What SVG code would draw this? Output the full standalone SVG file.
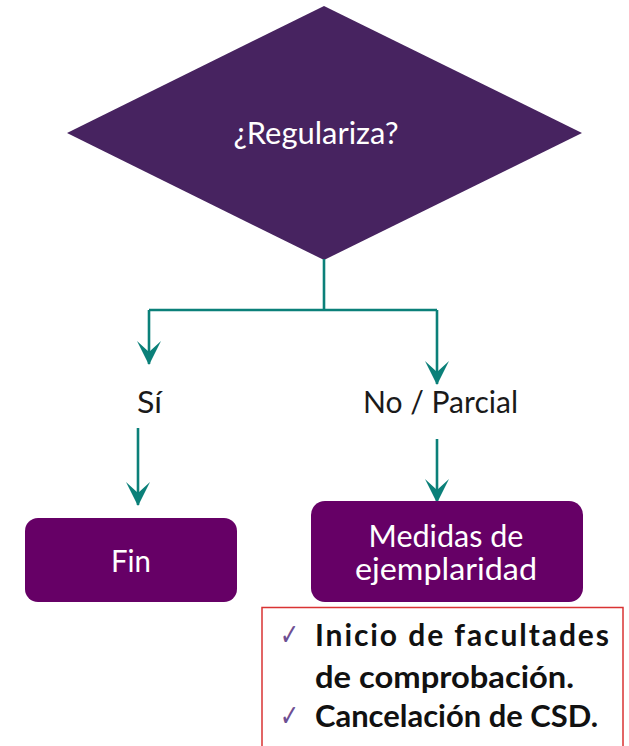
<svg xmlns="http://www.w3.org/2000/svg" width="629" height="746" viewBox="0 0 629 746">
<style>
.conn{stroke:#0b8079;stroke-width:2.6;fill:none}
.wt{fill:#ffffff;font-family:Lato,"Open Sans",sans-serif;font-size:30px;text-anchor:middle}
.lbl{fill:#1a1a1a;font-family:Lato,"Open Sans",sans-serif;font-size:30px}
.li{fill:#111111;font-family:Lato,"Open Sans",sans-serif;font-size:30px;font-weight:bold}
.ck{fill:#6e4f93;font-family:"DejaVu Sans",sans-serif;font-size:30px}
.box{fill:#660066}
</style>
<defs>
<marker id="ah" markerUnits="userSpaceOnUse" markerWidth="24" markerHeight="24" refX="23" refY="12" orient="auto" viewBox="0 0 24 24">
<path d="M0,0 L24,12 L0,24 L11,12 Z" fill="#0b8079"/>
</marker>
</defs>
<g id="decision">
<polygon points="324,6 582,133 324,260 67,133" fill="#472360"/>
<text class="wt" x="316" y="144" font-size="27" textLength="165" lengthAdjust="spacingAndGlyphs">¿Regulariza?</text>
</g>
<g id="connectors">
<path class="conn" d="M324,259 V310"/>
<path class="conn" d="M149,310 H437"/>
<path class="conn" d="M149,310 V364" marker-end="url(#ah)"/>
<path class="conn" d="M437,310 V384" marker-end="url(#ah)"/>
<path class="conn" d="M138,428 V505" marker-end="url(#ah)"/>
<path class="conn" d="M437,439 V502" marker-end="url(#ah)"/>
</g>
<g id="label-si">
<text class="lbl" x="137" y="413" textLength="25" lengthAdjust="spacingAndGlyphs">Sí</text>
</g>
<g id="label-no">
<text class="lbl" x="363" y="413" textLength="155" lengthAdjust="spacingAndGlyphs">No / Parcial</text>
</g>
<g id="fin">
<rect class="box" x="25" y="518" width="212" height="84" rx="13"/>
<text class="wt" x="131" y="572" font-size="31" textLength="40" lengthAdjust="spacingAndGlyphs">Fin</text>
</g>
<g id="medidas">
<rect class="box" x="311" y="501" width="272" height="101" rx="14"/>
<text class="wt" x="446" y="547" font-size="31" textLength="155" lengthAdjust="spacingAndGlyphs">Medidas de</text>
<text class="wt" x="446" y="580" font-size="31" textLength="182" lengthAdjust="spacingAndGlyphs">ejemplaridad</text>
</g>
<g id="lista">
<rect x="262" y="607.5" width="361" height="150" fill="none" stroke="#d93333" stroke-width="1.5"/>
<text class="ck" x="280" y="645" textLength="19" lengthAdjust="spacingAndGlyphs">✓</text>
<text class="li" x="315" y="646" textLength="294" lengthAdjust="spacing">Inicio de facultades</text>
<text class="li" x="315" y="688" textLength="259" lengthAdjust="spacingAndGlyphs">de comprobación.</text>
<text class="ck" x="280" y="726" textLength="19" lengthAdjust="spacingAndGlyphs">✓</text>
<text class="li" x="315" y="727" textLength="283" lengthAdjust="spacingAndGlyphs">Cancelación de CSD.</text>
</g>
</svg>
